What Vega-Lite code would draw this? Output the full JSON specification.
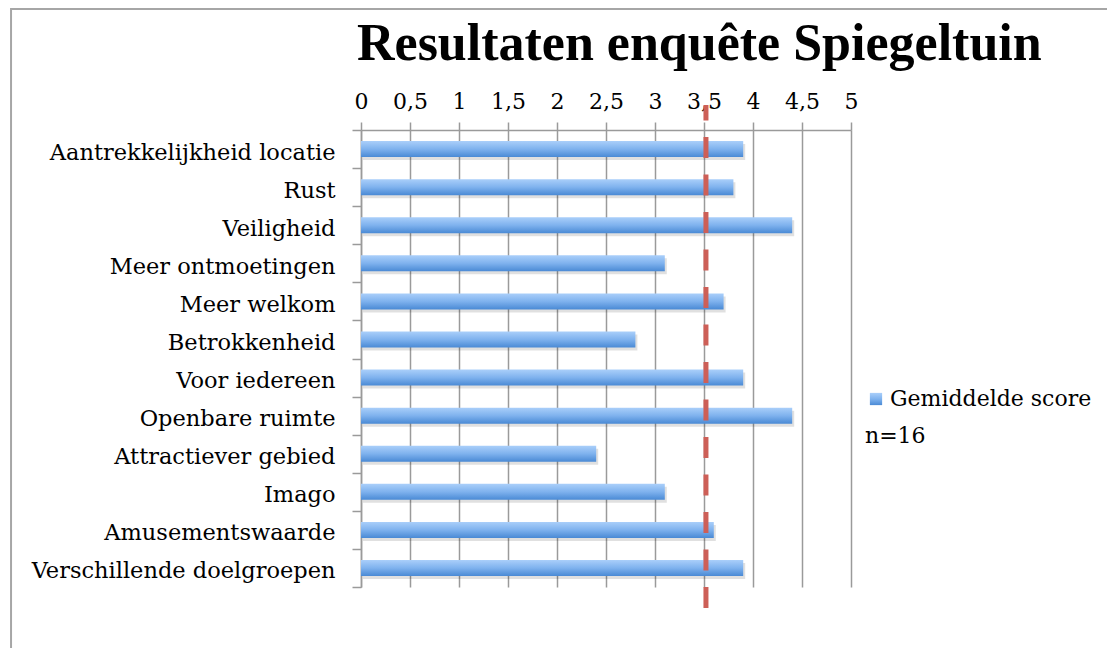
{
  "$schema": "https://vega.github.io/schema/vega-lite/v6.json",
  "width": 490,
  "height": 457,
  "autosize": "none",
  "padding": {"left": 361, "top": 130, "right": 256, "bottom": 61},
  "background": "white",
  "title": {
    "text": "Resultaten enquête Spiegeltuin",
    "font": "Liberation Serif",
    "fontSize": 52,
    "fontWeight": "bold",
    "color": "#000000",
    "anchor": "start",
    "frame": "group",
    "dx": -4,
    "baseline": "alphabetic",
    "offset": -104
  },
  "config": {"view": {"stroke": null}, "font": "DejaVu Serif"},
  "layer": [
    {
      "data": {"values": [{"x": -3.571, "x2": 20, "y": -1, "y2": 1.2648}]},
      "mark": {"type": "rect", "filled": false, "color": "#a6a6a6", "strokeWidth": 2},
      "encoding": {
        "x": {"field": "x", "type": "quantitative"},
        "x2": {"field": "x2"},
        "y": {"field": "y", "type": "quantitative", "scale": {"domain": [0, 1], "nice": false, "zero": false}, "axis": null},
        "y2": {"field": "y2"}
      }
    },
    {
      "data": {
        "values": [
          {"item": "Aantrekkelijkheid locatie", "score": 3.9},
          {"item": "Rust", "score": 3.8},
          {"item": "Veiligheid", "score": 4.4},
          {"item": "Meer ontmoetingen", "score": 3.1},
          {"item": "Meer welkom", "score": 3.7},
          {"item": "Betrokkenheid", "score": 2.8},
          {"item": "Voor iedereen", "score": 3.9},
          {"item": "Openbare ruimte", "score": 4.4},
          {"item": "Attractiever gebied", "score": 2.4},
          {"item": "Imago", "score": 3.1},
          {"item": "Amusementswaarde", "score": 3.6},
          {"item": "Verschillende doelgroepen", "score": 3.9}
        ]
      },
      "encoding": {
        "x": {
          "field": "score",
          "type": "quantitative",
          "scale": {"domain": [0, 5], "nice": false, "zero": true},
          "axis": {
            "orient": "top",
            "title": null,
            "values": [0, 0.5, 1, 1.5, 2, 2.5, 3, 3.5, 4, 4.5, 5],
            "labelExpr": "replace('' + datum.value, '.', ',')",
            "grid": true,
            "gridColor": "#9a9a9a",
            "gridWidth": 1.5,
            "domainColor": "#9a9a9a",
            "domainWidth": 1.5,
            "tickColor": "#9a9a9a",
            "tickWidth": 1.5,
            "tickSize": 8,
            "labelFont": "DejaVu Serif",
            "labelFontSize": 22,
            "labelColor": "#000000",
            "labelBaseline": "alphabetic",
            "labelPadding": 14,
            "labelFlush": false,
            "labelOverlap": false
          }
        },
        "y": {
          "field": "item",
          "type": "nominal",
          "sort": null,
          "scale": {"paddingInner": 0, "paddingOuter": 0},
          "axis": {
            "title": null,
            "tickBand": "extent",
            "tickSize": 9,
            "tickColor": "#9a9a9a",
            "tickWidth": 1.5,
            "domainColor": "#9a9a9a",
            "domainWidth": 1.5,
            "labelFont": "DejaVu Serif",
            "labelFontSize": 22.5,
            "labelColor": "#000000",
            "labelPadding": 17,
            "labelBaseline": "alphabetic",
            "labelOffset": 10,
            "labelLimit": 0,
            "grid": false
          }
        }
      },
      "layer": [
        {
          "mark": {"type": "bar", "size": 16, "color": "#000000", "opacity": 0.12, "xOffset": 2, "yOffset": 3}
        },
        {
          "mark": {
            "type": "bar",
            "size": 16,
            "color": {
              "gradient": "linear",
              "x1": 0, "y1": 0, "x2": 0, "y2": 1,
              "stops": [
                {"offset": 0, "color": "#aacffa"},
                {"offset": 0.5, "color": "#7fb2ee"},
                {"offset": 1, "color": "#4a8ad5"}
              ]
            }
          },
          "encoding": {
            "opacity": {
              "datum": "Gemiddelde score",
              "type": "ordinal",
              "scale": {"range": [1]},
              "legend": {
                "title": "n=16",
                "titleOrient": "bottom",
                "titleAnchor": "start",
                "orient": "none",
                "legendX": 504,
                "legendY": 258,
                "symbolType": "square",
                "symbolSize": 150,
                "symbolFillColor": "#7fb1ee",
                "symbolStrokeWidth": 0,
                "labelFont": "DejaVu Serif",
                "labelFontSize": 22,
                "labelColor": "#000000",
                "labelOffset": 3,
                "labelLimit": 0,
                "titleFont": "DejaVu Serif",
                "titleFontSize": 22,
                "titleFontWeight": "normal",
                "titleColor": "#000000",
                "titlePadding": 16
              }
            }
          }
        }
      ]
    },
    {
      "data": {"values": [{"x": 3.52, "y": -0.046, "y2": 1.0547}]},
      "mark": {"type": "rule", "color": "#cd5f57", "strokeWidth": 5, "strokeDash": [21, 16.5]},
      "encoding": {
        "x": {"field": "x", "type": "quantitative"},
        "y": {"field": "y", "type": "quantitative", "scale": {"domain": [0, 1], "nice": false, "zero": false}, "axis": null},
        "y2": {"field": "y2"}
      }
    }
  ],
  "resolve": {"scale": {"y": "independent"}}
}
